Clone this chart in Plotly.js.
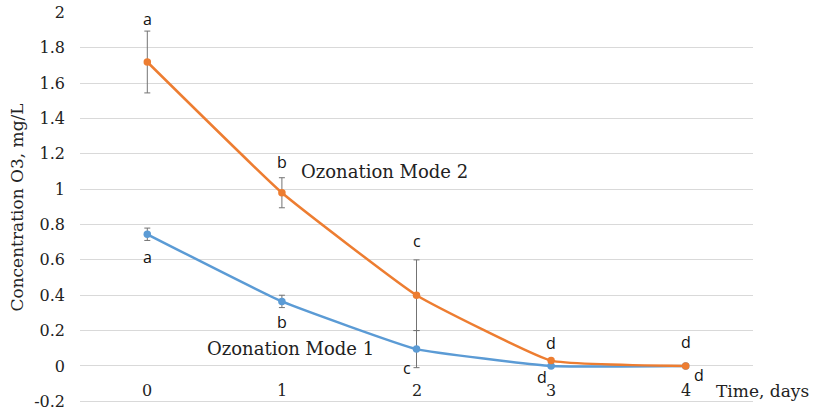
<!DOCTYPE html>
<html>
<head>
<meta charset="utf-8">
<script src="https://cdn.plot.ly/plotly-3.0.1.min.js"></script>
<style>html,body{margin:0;padding:0;background:#fff;}#chart{width:813px;height:412px;}</style>
</head>
<body>
<div id="chart"></div>
<script>
var days = [0, 1, 2, 3, 4];
var dayLabels = ["0", "1", "2", "3", "4"];
var mode2 = [1.72, 0.98, 0.40, 0.03, 0.00];
var mode2Err = [0.175, 0.085, 0.20, 0, 0];
var mode1 = [0.745, 0.365, 0.095, 0.00, 0.00];
var mode1Err = [0.035, 0.035, 0.105, 0, 0];
var mode2Letters = ["a", "b", "c", "d", "d"];
var mode1Letters = ["a", "b", "c", "d", "d"];
var yTicks = [-0.2, 0, 0.2, 0.4, 0.6, 0.8, 1, 1.2, 1.4, 1.6, 1.8, 2];
var yTickText = ["-0.2", "0", "0.2", "0.4", "0.6", "0.8", "1", "1.2", "1.4", "1.6", "1.8", "2"];

var orange = "#ED7D31", blue = "#5B9BD5";
var serif = "DejaVu Serif, serif";
var sans = "Open Sans, Liberation Sans, sans-serif";

var traces = [
  {x: days, y: mode1, type: "scatter", mode: "lines+markers", name: "Ozonation Mode 1",
   line: {color: blue, width: 2.5, shape: "spline", smoothing: 0.35},
   marker: {color: blue, size: 7.5},
   error_y: {type: "data", array: mode1Err, visible: true, color: "#737373", thickness: 1, width: 3}},
  {x: days, y: mode2, type: "scatter", mode: "lines+markers", name: "Ozonation Mode 2",
   line: {color: orange, width: 2.5, shape: "spline", smoothing: 0.35},
   marker: {color: orange, size: 7.5},
   error_y: {type: "data", array: mode2Err, visible: true, color: "#737373", thickness: 1, width: 3}}
];

var ann = [];
days.forEach(function(d, i){
  ann.push({x: d, y: -0.138, xref: "x", yref: "y", text: dayLabels[i], showarrow: false,
            font: {family: serif, size: 16, color: "#222"}});
});
// Mode 2 letters above the error bars
var m2shift = [12, 16, 19, 18, 24];
days.forEach(function(d, i){
  ann.push({x: d, y: mode2[i] + mode2Err[i], xref: "x", yref: "y", text: mode2Letters[i], showarrow: false,
            yshift: m2shift[i], font: {family: sans, size: 16, color: "#111"}});
});
// Mode 1 letters below the points
var m1shift = [[0, -23], [0, -21], [-10, -19], [-9, -11], [13, -9]];
days.forEach(function(d, i){
  ann.push({x: d, y: mode1[i], xref: "x", yref: "y", text: mode1Letters[i], showarrow: false,
            xshift: m1shift[i][0], yshift: m1shift[i][1], font: {family: sans, size: 16, color: "#111"}});
});
ann.push({x: 1.13, y: 1.1, xref: "x", yref: "y", text: "Ozonation Mode 2", showarrow: false,
          xanchor: "left", font: {family: serif, size: 18, color: "#222"}});
ann.push({x: 0.43, y: 0.1, xref: "x", yref: "y", text: "Ozonation Mode 1", showarrow: false,
          xanchor: "left", font: {family: serif, size: 18, color: "#222"}});
ann.push({x: 0.942, y: -0.14, xref: "paper", yref: "y", text: "Time, days", showarrow: false,
          xanchor: "left", font: {family: serif, size: 17, color: "#222"}});

var layout = {
  width: 813, height: 412,
  margin: {l: 80, r: 60, t: 12, b: 9},
  paper_bgcolor: "#fff", plot_bgcolor: "#fff",
  showlegend: false,
  xaxis: {range: [-0.5, 4.5], showgrid: false, zeroline: false, showticklabels: false,
          showline: false, ticks: "", fixedrange: true},
  yaxis: {range: [-0.21, 2.003], tickvals: yTicks, ticktext: yTickText, showgrid: true,
          gridcolor: "#d9d9d9", gridwidth: 1, zeroline: false, showline: false, ticks: "",
          ticklabelstandoff: 14,
          tickfont: {family: serif, size: 16, color: "#222"},
          title: {text: "Concentration O3, mg/L", font: {family: serif, size: 17, color: "#222"}, standoff: 6}},
  annotations: ann
};
Plotly.newPlot("chart", traces, layout, {staticPlot: true, displayModeBar: false});
</script>
</body>
</html>
